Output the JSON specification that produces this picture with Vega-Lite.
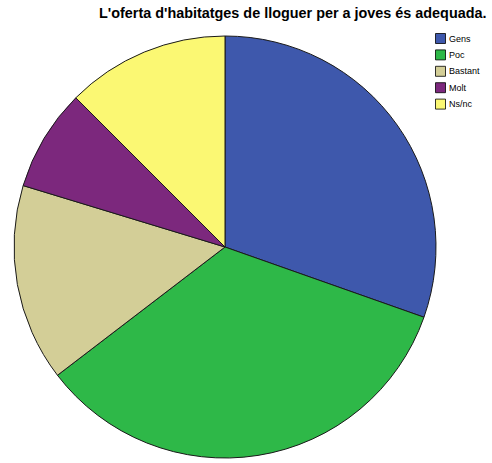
{
  "$schema": "https://vega.github.io/schema/vega-lite/v6.json",
  "width": 450,
  "height": 434,
  "autosize": "none",
  "padding": {"left": 0, "top": 30, "right": 42, "bottom": 0},
  "background": "white",
  "title": {
    "text": "L'oferta d'habitatges de lloguer per a joves és adequada.",
    "font": "Liberation Sans",
    "fontSize": 14.4,
    "fontWeight": "bold",
    "color": "black",
    "anchor": "start",
    "frame": "group",
    "dx": 99,
    "dy": 12,
    "baseline": "alphabetic",
    "offset": 10
  },
  "data": {
    "values": [
      {"k": 1, "resposta": "Gens", "pct": 30.4},
      {"k": 2, "resposta": "Poc", "pct": 34.2},
      {"k": 3, "resposta": "Bastant", "pct": 15.1},
      {"k": 4, "resposta": "Molt", "pct": 7.8},
      {"k": 5, "resposta": "Ns/nc", "pct": 12.5}
    ]
  },
  "mark": {"type": "arc", "outerRadius": 211, "stroke": "#1a1a1a", "strokeWidth": 1},
  "encoding": {
    "theta": {"field": "pct", "type": "quantitative", "stack": true},
    "order": {"field": "k", "type": "quantitative", "sort": "ascending"},
    "color": {
      "field": "resposta",
      "type": "nominal",
      "scale": {
        "domain": ["Gens", "Poc", "Bastant", "Molt", "Ns/nc"],
        "range": ["#3E58AC", "#2EB848", "#D3CE97", "#7C287D", "#FBF873"]
      },
      "legend": {
        "title": null,
        "orient": "none",
        "legendX": 435,
        "legendY": 3,
        "symbolType": "square",
        "symbolSize": 100,
        "symbolStrokeColor": "black",
        "symbolStrokeWidth": 0.8,
        "symbolOpacity": 1,
        "labelFont": "Liberation Sans",
        "labelFontSize": 9,
        "labelColor": "black",
        "labelOffset": 3,
        "rowPadding": 1.4
      }
    }
  }
}
